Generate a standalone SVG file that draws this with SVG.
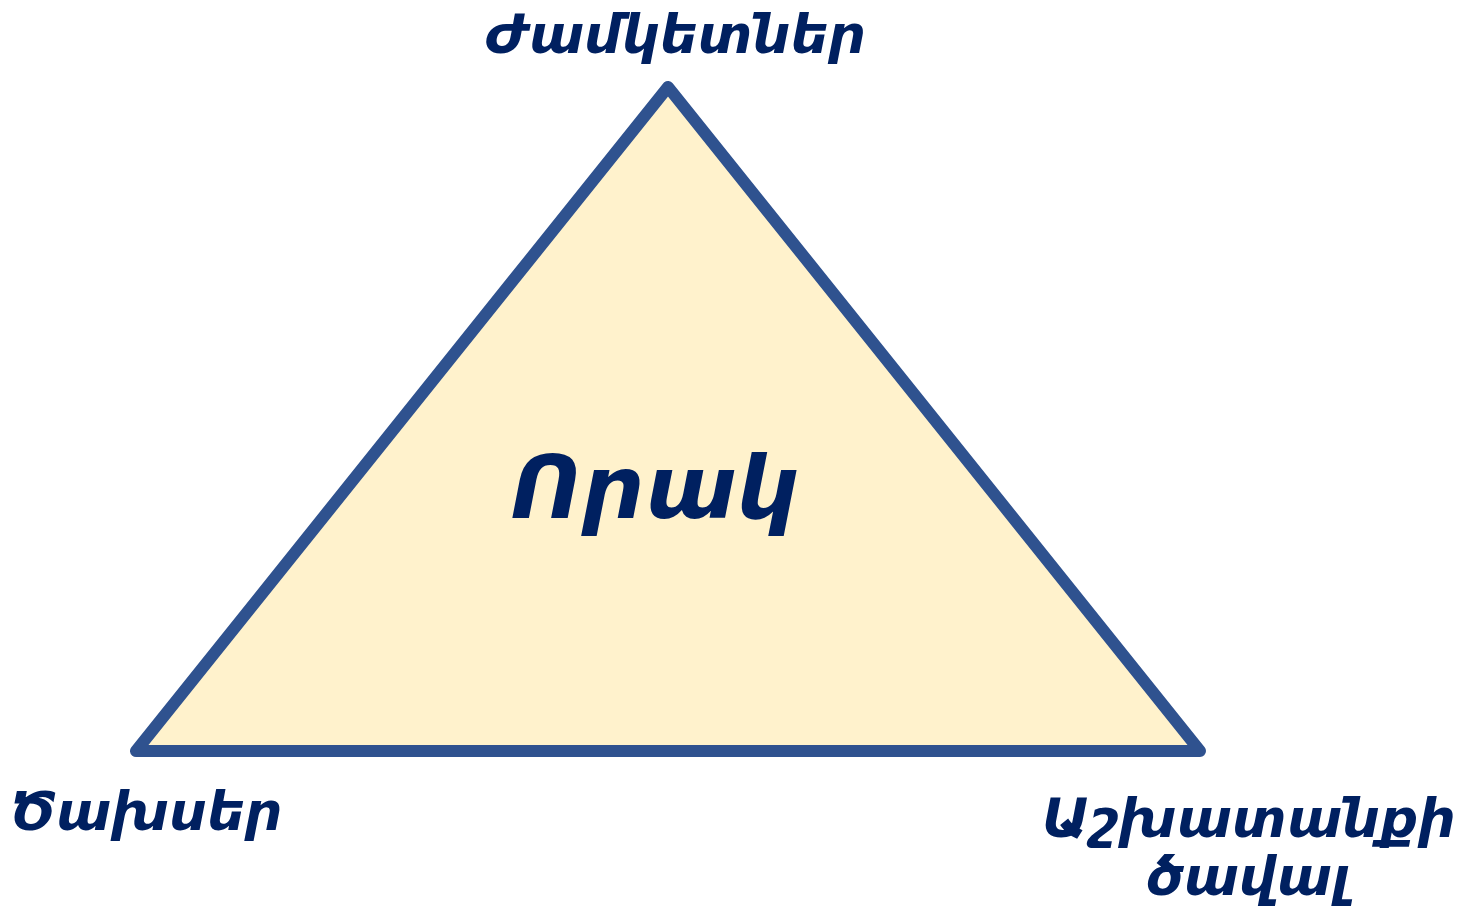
<svg xmlns="http://www.w3.org/2000/svg" width="1462" height="911" viewBox="0 0 1462 911">
<style>
.lbl{font-family:"DejaVu Sans","Noto Sans",sans-serif;font-weight:bold;font-style:italic;fill:#002060;text-anchor:middle}
.s{font-size:53px}
.c{font-size:88px}
</style>
<rect width="1462" height="911" fill="#ffffff"/>
<g id="triangle">
<polygon points="668,87 136,751 1200,751" fill="#FFF2CC" stroke="#2F528F" stroke-width="12" stroke-linejoin="round"/>
</g>
<g id="center"><text class="lbl c" x="655" y="518">Որակ</text></g>
<g id="top"><text class="lbl s" x="676" y="53">Ժամկետներ</text></g>
<g id="left"><text class="lbl s" x="146" y="830">Ծախսեր</text></g>
<g id="right"><text class="lbl s" x="1249" y="837">Աշխատանքի</text><text class="lbl s" x="1248" y="895">ծավալ</text></g>
</svg>
